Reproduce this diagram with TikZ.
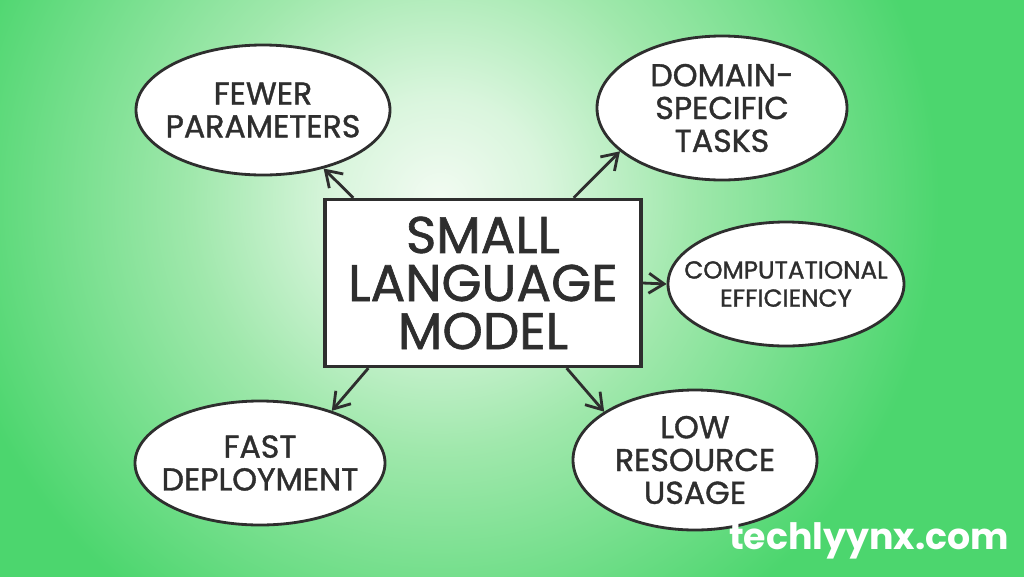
\documentclass[tikz,border=0pt]{standalone}
\usepackage{fontspec}
\setmainfont{Poppins}
\newfontfamily\inkfont{Poppins}[FakeBold=1.2]
\usepackage{tikz}
\usetikzlibrary{shapes.geometric,arrows.meta,positioning,calc}
\definecolor{bggreen}{RGB}{76,214,110}
\definecolor{bgmid}{RGB}{160,232,172}
\definecolor{bglight}{RGB}{242,251,242}
\definecolor{ink}{RGB}{46,46,46}
\pgfdeclareradialshading{glow}{\pgfpoint{0bp}{0bp}}{color(0bp)=(bglight); color(5bp)=(bglight!70!bgmid); color(12bp)=(bgmid); color(24bp)=(bggreen); color(50bp)=(bggreen)}
\tikzset{
  bubble/.style={ellipse,draw=ink,line width=2.4pt,fill=white,inner xsep=-40pt,inner ysep=-20pt,align=center,text=ink,font=\inkfont\fontsize{27}{28}\selectfont},
  core/.style={rectangle,draw=ink,line width=2.8pt,fill=white,align=center,text=ink,font=\inkfont\fontsize{44}{41}\selectfont},
  link/.style={draw=ink,line width=2.4pt,-{Straight Barb[length=13pt,width=17pt]}}
}

\begin{document}
\begin{tikzpicture}[x=0.03cm,y=-0.03cm]
        \useasboundingbox (0,0) rectangle (1024,576);
        \fill[bggreen] (-10,-10) rectangle (1034,586);
        \begin{scope}
        \clip (-10,-10) rectangle (1034,586);
        \shade[shading=glow] (440,200) circle (520);
        \end{scope}
        \node[core,minimum width=9.48cm,minimum height=5.01cm] (slm) at (483,283) {SMALL\\LANGUAGE\\MODEL};
        \node[bubble,minimum width=7.62cm,minimum height=3.9cm] (fewer) at (263,110) {FEWER\\PARAMETERS};
        \node[bubble,minimum width=7.5cm,minimum height=4.32cm] (domain) at (722,108) {DOMAIN-\\SPECIFIC\\TASKS};
        \node[bubble,minimum width=7.08cm,minimum height=3.72cm,font=\inkfont\fontsize{21}{24}\selectfont] (compute) at (786,284) {COMPUTATIONAL\\EFFICIENCY};
        \node[bubble,minimum width=7.5cm,minimum height=3.72cm] (fast) at (260,463) {FAST\\DEPLOYMENT};
        \node[bubble,minimum width=7.32cm,minimum height=4.2cm] (low) at (695,460) {LOW\\RESOURCE\\USAGE};
        \draw[link] ($(slm.north west)+(30,0)$) -- (fewer.316);
        \draw[link] ($(slm.north east)+(-69,0)$) -- (domain.203);
        \draw[link] (slm.east) -- (compute.west);
        \draw[link] ($(slm.south west)+(45,0)$) -- (fast.36);
        \draw[link] ($(slm.south east)+(-76,0)$) -- (low.152);
        \node[text=white,font=\fontsize{31}{31}\selectfont\bfseries] (site) at (869,541) {techlyynx.com};
    \end{tikzpicture}
\end{document}
